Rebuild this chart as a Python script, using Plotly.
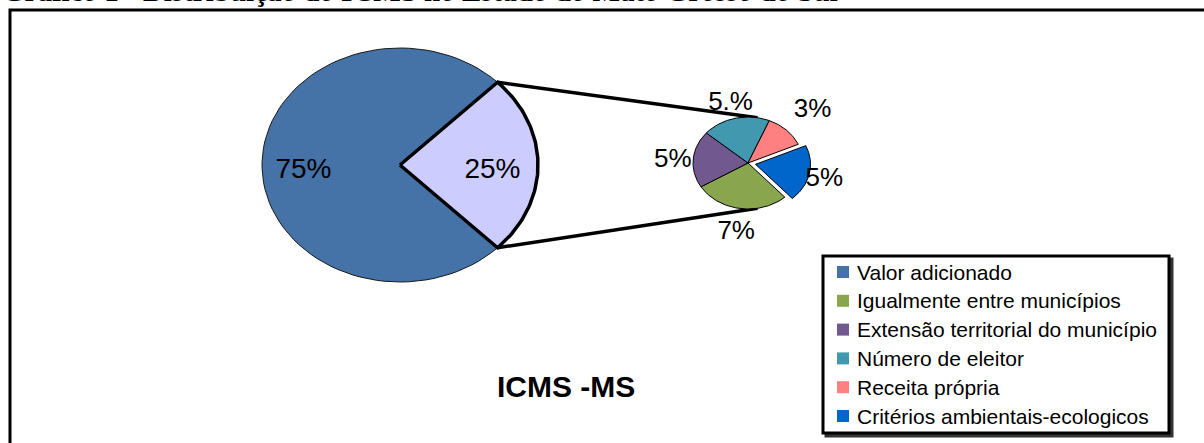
import numpy as np
import plotly.graph_objects as go

# ---------------- data ----------------
main_labels = ["Valor adicionado", "Outros critérios"]
main_values = [75, 25]
main_text = ["75%", "25%"]

sub_labels = ["Igualmente entre municípios", "Extensão territorial do município",
              "Número de eleitor", "Receita própria", "Critérios ambientais-ecologicos"]
sub_values = [7, 5, 5, 3, 5]
sub_text = ["7%", "5%", "5.%", "3%", "5%"]

legend_labels = ["Valor adicionado", "Igualmente entre municípios",
                 "Extensão territorial do município", "Número de eleitor",
                 "Receita própria", "Critérios ambientais-ecologicos"]

title_text = "Gráfico 1 - Distribuição do ICMS no Estado do Mato Grosso do Sul"
chart_title = "ICMS -MS"

# ---------------- style ----------------
W, H = 1204, 443
FONT = "Arial, 'Liberation Sans', sans-serif"
main_colors = ["#4572A7", "#CCCCFF"]
sub_colors = ["#89A54E", "#71588F", "#4198AF", "#FF8080", "#0066CC"]
legend_colors = [main_colors[0]] + sub_colors

MC = (400, 165); MRX, MRY = 138, 117
SC = (748, 163); SRX, SRY = 55, 46
sub_start = 312.0          # degrees, going clockwise
explode = [0, 0, 0, 0, 0.14]
label_r = [1.47, 1.37, 1.39, 1.68, 1.42]


def wedge(c, rx, ry, a0, a1, off=0.0):
    """polygon of an elliptical pie wedge, angles in degrees (a0 -> a1)."""
    mid = np.radians((a0 + a1) / 2)
    ox, oy = off * rx * np.cos(mid), off * ry * np.sin(mid)
    t = np.radians(np.linspace(a0, a1, 80))
    x = np.concatenate([[c[0] + ox], c[0] + ox + rx * np.cos(t), [c[0] + ox]])
    y = np.concatenate([[c[1] - oy], c[1] - oy - ry * np.sin(t), [c[1] - oy]])
    return x, y


fig = go.Figure()

# main pie: 25% slice centred on 0 degrees
main_total = sum(main_values)
small_span = 360.0 * main_values[1] / main_total
main_angles = [(small_span / 2, 360 - small_span / 2), (-small_span / 2, small_span / 2)]
for i, (a0, a1) in enumerate(main_angles):
    x, y = wedge(MC, MRX, MRY, a0, a1)
    fig.add_trace(go.Scatter(x=x, y=y, mode="lines", fill="toself",
                             fillcolor=main_colors[i],
                             line=dict(color="#1a1a1a" if i == 0 else "black",
                                       width=1 if i == 0 else 3.5),
                             hoverinfo="skip", showlegend=False))

# connector lines
for sgn in (1, -1):
    a = np.radians(sgn * small_span / 2)
    b = np.radians(sgn * 80)
    fig.add_trace(go.Scatter(
        x=[MC[0] + MRX * np.cos(a), SC[0] + SRX * np.cos(b)],
        y=[MC[1] - MRY * np.sin(a), SC[1] - SRY * np.sin(b)],
        mode="lines", line=dict(color="black", width=3.5),
        hoverinfo="skip", showlegend=False))

# secondary pie (clockwise)
sub_total = sum(sub_values)
ang = sub_start
lab_x, lab_y = [], []
for i, v in enumerate(sub_values):
    span = 360.0 * v / sub_total
    a0, a1 = ang - span, ang
    x, y = wedge(SC, SRX, SRY, a0, a1, explode[i])
    fig.add_trace(go.Scatter(x=x, y=y, mode="lines", fill="toself",
                             fillcolor=sub_colors[i], line=dict(color="black", width=1),
                             hoverinfo="skip", showlegend=False))
    mid = np.radians((a0 + a1) / 2)
    lab_x.append(SC[0] + label_r[i] * SRX * np.cos(mid))
    lab_y.append(SC[1] + 3 - label_r[i] * SRY * np.sin(mid))
    ang = a0

# labels
main_lab_x, main_lab_y = [], []
for (a0, a1), r in zip(main_angles, [0.7, 0.67]):
    mid = np.radians((a0 + a1) / 2)
    main_lab_x.append(MC[0] + r * MRX * np.cos(mid))
    main_lab_y.append(MC[1] + 6 - r * MRY * np.sin(mid))
fig.add_trace(go.Scatter(x=main_lab_x, y=main_lab_y, mode="text", text=main_text,
                         textposition="middle center",
                         textfont=dict(family=FONT, size=28, color="black"),
                         hoverinfo="skip", showlegend=False))
fig.add_trace(go.Scatter(x=lab_x, y=lab_y, mode="text", text=sub_text,
                         textposition="middle center",
                         textfont=dict(family=FONT, size=26, color="black"),
                         hoverinfo="skip", showlegend=False))

# frame and legend box
shapes = [
    dict(type="rect", xref="x", yref="y", x0=10, y0=10, x1=1215, y1=460,
         line=dict(color="black", width=3)),
    dict(type="rect", xref="x", yref="y", x0=826, y0=259, x1=1172, y1=436,
         line=dict(color="#333", width=3), fillcolor="#333"),
    dict(type="rect", xref="x", yref="y", x0=823, y0=256, x1=1169, y1=433,
         line=dict(color="black", width=3), fillcolor="white"),
]
annotations = []
for i, (lab, col) in enumerate(zip(legend_labels, legend_colors)):
    yc = 272 + i * 28.8
    shapes.append(dict(type="rect", xref="x", yref="y", x0=837, x1=849,
                       y0=yc - 6, y1=yc + 6, line=dict(width=0), fillcolor=col))
    annotations.append(dict(x=855, y=yc, xref="x", yref="y", text=lab,
                            showarrow=False, xanchor="left", yanchor="middle",
                            font=dict(family=FONT, size=21, color="black")))

annotations.append(dict(x=566, y=386, xref="x", yref="y", text=f"<b>{chart_title}</b>",
                        showarrow=False, xanchor="center", yanchor="middle",
                        font=dict(family=FONT, size=30, color="black")))
annotations.append(dict(x=0, y=1, xref="paper", yref="paper", text=f"<b>{title_text}</b>",
                        showarrow=False, xanchor="left", yanchor="bottom",
                        xshift=1, yshift=-8, borderpad=0,
                        font=dict(family="'Liberation Serif', 'Times New Roman', serif",
                                  size=29, color="black")))

fig.update_layout(
    width=W, height=H, margin=dict(l=0, r=0, t=0, b=0),
    paper_bgcolor="white", plot_bgcolor="white",
    xaxis=dict(range=[0, W], visible=False, fixedrange=True),
    yaxis=dict(range=[H, 0], visible=False, fixedrange=True),
    shapes=shapes, annotations=annotations, showlegend=False,
)

fig.write_html("out.html")
